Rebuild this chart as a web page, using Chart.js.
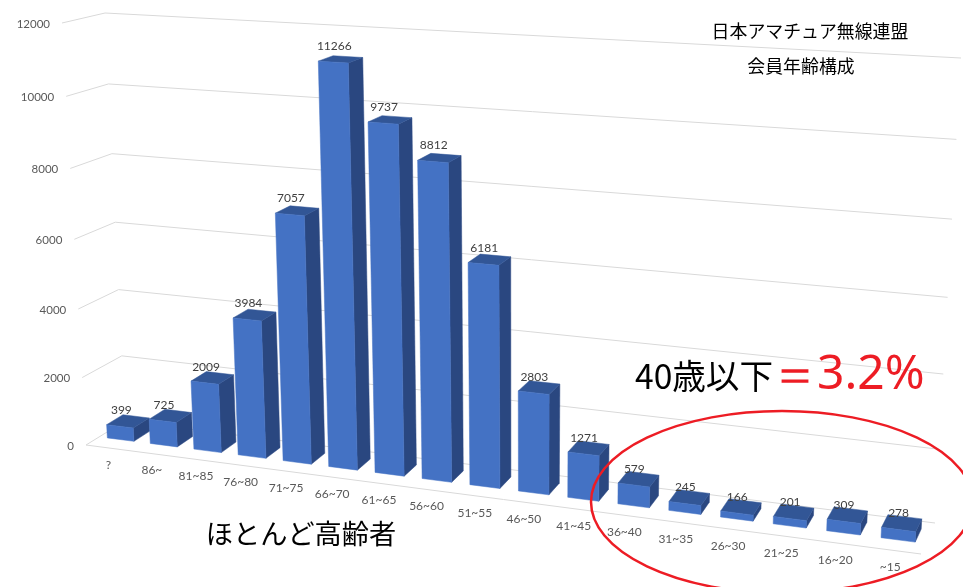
<!DOCTYPE html>
<html lang="ja">
<head>
<meta charset="utf-8">
<style>html,body{margin:0;padding:0;background:#fff}canvas{display:block}</style>
<script src="https://cdn.jsdelivr.net/npm/chart.js@4"></script>
</head>
<body>
<canvas id="c" width="963" height="587"></canvas>
<script>
const categories = ["?","86~","81~85","76~80","71~75","66~70","61~65","56~60","51~55","46~50","41~45","36~40","31~35","26~30","21~25","16~20","~15"];
const members = [399,725,2009,3984,7057,11266,9737,8812,6181,2803,1271,579,245,166,201,309,278];
const axisMax = 12000;
const axisStep = 2000;
const titleLines = ["日本アマチュア無線連盟","会員年齢構成"];
const noteLeft = "ほとんど高齢者";
const noteAge = "40歳以下";
const noteEq = "＝";
const notePct = "3.2%";

// Camera: where the corners of the 3D box fall on the page
const frontQuad = [[86,445],[921,554],[943,75],[62,23]];
const backQuad  = [[125,421],[935,523],[961,58],[105,13]];
const barDepth = [0.34,0.76];

function squareToQuad(q){
  const [[x0,y0],[x1,y1],[x2,y2],[x3,y3]] = q;
  const dx1=x1-x2,dx2=x3-x2,sx=x0-x1+x2-x3,dy1=y1-y2,dy2=y3-y2,sy=y0-y1+y2-y3;
  const den=dx1*dy2-dx2*dy1;
  const g=(sx*dy2-dx2*sy)/den,h=(dx1*sy-sx*dy1)/den;
  const a=x1-x0+g*x1,b=x3-x0+h*x3,c=x0,d=y1-y0+g*y1,e=y3-y0+h*y3,f=y0;
  return (u,v)=>{const k=g*u+h*v+1;return [(a*u+b*v+c)/k,(d*u+e*v+f)/k];};
}
const hFront=squareToQuad(frontQuad),hBack=squareToQuad(backQuad);
function P(u,v,w){
  const A=hFront(u,v),B=hBack(u,v);
  return [A[0]+(B[0]-A[0])*w,A[1]+(B[1]-A[1])*w];
}
function poly(ctx,pts,fill){
  ctx.beginPath();
  pts.forEach((p,i)=>i?ctx.lineTo(p[0],p[1]):ctx.moveTo(p[0],p[1]));
  ctx.closePath();ctx.fillStyle=fill;ctx.fill();
  ctx.strokeStyle=fill;ctx.lineWidth=0.5;ctx.stroke();
}
function line(ctx,a,b){ctx.beginPath();ctx.moveTo(a[0],a[1]);ctx.lineTo(b[0],b[1]);ctx.stroke();}

const box3d={
  id:'box3d',
  beforeDatasetsDraw(chart){
    const ctx=chart.ctx,ys=chart.scales.y,area=chart.chartArea;
    ctx.save();
    ctx.strokeStyle='#D9D9D9';ctx.lineWidth=1;
    ctx.font='11.5px Lato';ctx.textAlign='right';ctx.textBaseline='middle';
    ys.ticks.forEach(t=>{
      const v=(area.bottom-ys.getPixelForValue(t.value))/area.height;
      const a=P(0,v,0),b=P(0,v,1),c=P(1,v,1);
      line(ctx,a,b);line(ctx,b,c);
      ctx.fillStyle='#595959';
      ctx.fillText(String(t.value),a[0]-12,a[1]+1);
    });
    line(ctx,P(0,0,0),P(1,0,0));
    ctx.font='12px Lato';
    ctx.textAlign='center';ctx.fillStyle='#595959';
    const xs=chart.scales.x;
    chart.data.labels.forEach((l,i)=>{
      const u=(xs.getPixelForValue(i)-area.left)/area.width;
      const p=P(u,0,0);
      ctx.fillText(l,p[0]+1-4*u,p[1]+17);
    });
    ctx.restore();
  },
  beforeDatasetDraw(chart,args){
    const ctx=chart.ctx,area=chart.chartArea;
    const [w0,w1]=barDepth;
    args.meta.data.forEach(el=>{
      const p=el.getProps(['x','y','base','width'],true);
      const u0=(p.x-p.width/2-area.left)/area.width,u1=(p.x+p.width/2-area.left)/area.width;
      const v0=(area.bottom-p.base)/area.height,v1=(area.bottom-p.y)/area.height;
      poly(ctx,[P(u1,v0,w0),P(u1,v0,w1),P(u1,v1,w1),P(u1,v1,w0)],'#2A4780');
      poly(ctx,[P(u0,v1,w0),P(u1,v1,w0),P(u1,v1,w1),P(u0,v1,w1)],'#325696');
      poly(ctx,[P(u0,v0,w0),P(u1,v0,w0),P(u1,v1,w0),P(u0,v1,w0)],'#4472C4');
    });
    return false;
  },
  afterDatasetsDraw(chart){
    const ctx=chart.ctx,area=chart.chartArea;
    const meta=chart.getDatasetMeta(0);
    ctx.save();
    ctx.font='12px Lato';ctx.textAlign='center';ctx.textBaseline='middle';ctx.fillStyle='#404040';
    meta.data.forEach((el,i)=>{
      const p=el.getProps(['x','y'],true);
      const u=(p.x-area.left)/area.width;
      const q=P(u,(area.bottom-p.y)/area.height,barDepth[0]);
      ctx.fillText(String(chart.data.datasets[0].data[i]),q[0]+1.5-1.5*u,q[1]-16);
    });
    // annotations
    ctx.fillStyle='#000';
    ctx.font='17.9px "Noto Sans CJK JP"';
    ctx.fillText(titleLines[0],810,31);
    ctx.fillText(titleLines[1],801,66);
    ctx.font='27.2px "Noto Sans CJK JP"';
    ctx.fillText(noteLeft,301,534);
    ctx.textAlign='left';
    ctx.font='33.6px "Noto Sans CJK JP"';
    ctx.fillText(noteAge,635,376);
    ctx.fillStyle='#ED1C24';
    ctx.font='52px "Noto Sans"';
    ctx.textAlign='center';
    ctx.fillText(noteEq,795,376);
    ctx.textAlign='left';
    ctx.font='48px "Noto Sans"';
    ctx.fillText(notePct,817,375);
    ctx.strokeStyle='#ED1C24';ctx.lineWidth=2.5;
    ctx.beginPath();ctx.ellipse(782,502,191,91,0,0,Math.PI*2);ctx.stroke();
    ctx.restore();
  }
};

new Chart(document.getElementById('c'),{
  type:'bar',
  data:{labels:categories,datasets:[{data:members,backgroundColor:'#4472C4',categoryPercentage:0.62,barPercentage:1}]},
  options:{
    responsive:false,animation:false,
    layout:{padding:0},
    plugins:{legend:{display:false},tooltip:{enabled:false}},
    scales:{
      x:{display:false},
      y:{display:false,min:0,max:axisMax,ticks:{stepSize:axisStep}}
    }
  },
  plugins:[box3d]
});
</script>
</body>
</html>
